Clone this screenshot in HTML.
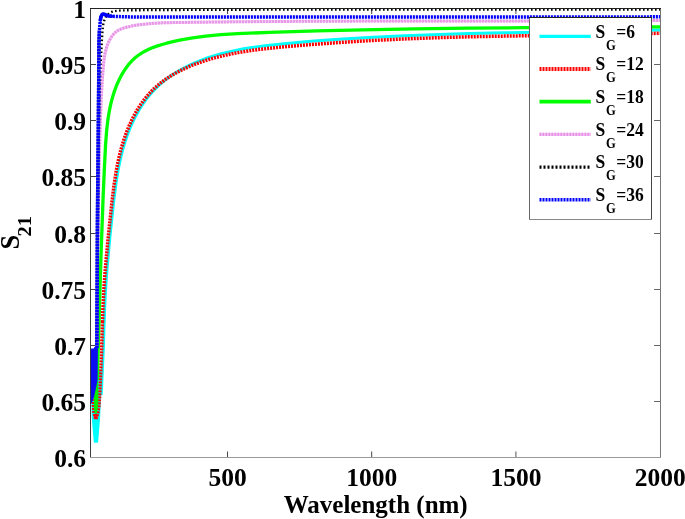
<!DOCTYPE html><html><head><meta charset="utf-8"><style>html,body{margin:0;padding:0;background:#fff;overflow:hidden}svg{display:block;will-change:transform}</style></head><body><svg width="685" height="519" viewBox="0 0 685 519">
<rect width="685" height="519" fill="#fff"/>
<path d="M91,64.5h5M91,120.5h5M91,176.5h5M91,233.5h5M91,289.5h5M91,345.5h5M91,401.5h5" stroke="#444" stroke-width="1" fill="none"/>
<path d="M660,64.5h-6M660,120.5h-6M660,176.5h-6M660,233.5h-6M660,289.5h-6M660,345.5h-6M660,401.5h-6" stroke="#666" stroke-width="1" fill="none"/>
<path d="M227.55,457v-5.5M227.55,9v5M371.7,457v-5.5M371.7,9v5" stroke="#444" stroke-width="1" fill="none"/>
<path d="M515.9,457v-5.5M515.9,9v5" stroke="#555" stroke-width="1" fill="none"/>
<defs><clipPath id="c"><rect x="91" y="8" width="569.5" height="449.5"/></clipPath></defs>
<g clip-path="url(#c)" fill="none" stroke-linejoin="round">
<polygon points="91.2,370.0 103.0,370.0 101.9,385.0 101.2,395.0 100.7,405.0 100.1,418.0 98.8,434.0 98.2,441.5 97.6,442.7 94.3,442.7 93.7,441.5 93.1,434.0 91.8,418.0 91.4,405.0 91.2,395.0" fill="#00ffff" stroke="none"/>
<path d="M101.20,395.00 L101.90,380.00 L102.80,360.00 L103.50,345.00 L104.10,322.00" stroke="#00ffff" stroke-width="3"/>
<path d="M104.19,322.12 L104.61,309.05 L105.22,296.09 L106.06,282.23 L107.07,268.42 L109.80,237.95 L113.78,200.39 L116.09,182.54 L117.34,174.64 L118.58,167.77 L119.97,160.94 L121.55,154.16 L123.33,147.45 L125.04,141.75 L127.27,135.18 L129.76,128.71 L132.53,122.34 L135.14,117.01 L138.46,110.95 L141.56,105.92 L144.89,101.06 L148.46,96.39 L152.28,91.93 L155.65,88.39 L159.94,84.37 L164.46,80.59 L169.19,77.05 L174.10,73.74 L179.17,70.65 L184.38,67.79 L189.69,65.14 L196.00,62.31 L201.48,60.11 L207.95,57.76 L214.52,55.66 L221.15,53.77 L227.86,52.09 L235.59,50.39 L242.42,49.08 L250.27,47.76 L267.10,45.47 L287.02,43.40 L313.86,41.08 L342.59,39.00 L373.24,37.18 L404.87,35.67 L439.53,34.39 L469.30,33.53 L503.09,32.76 L617.37,30.80 L661.91,29.87" stroke="#00ffff" stroke-width="3"/>
<path d="M93.20,396.00 L93.40,405.00 L94.00,413.00 L95.80,419.30 L97.60,414.00 L99.00,405.00 L99.70,395.00 L100.40,380.00 L101.20,360.00 L101.80,345.00 L102.40,322.00 M102.50,322.14 L102.86,310.05 L103.45,297.07 L104.21,284.19 L105.21,270.39 L107.84,240.93 L111.87,202.44 L114.09,184.58 L116.46,169.77 L117.80,162.91 L119.31,156.11 L121.02,149.36 L122.66,143.62 L124.81,137.01 L126.85,131.40 L129.51,124.96 L132.01,119.55 L134.75,114.26 L137.71,109.13 L140.92,104.17 L144.37,99.40 L148.08,94.86 L151.37,91.26 L154.85,87.84 L159.28,83.99 L163.16,81.00 L168.03,77.65 L173.09,74.55 L178.31,71.68 L183.66,69.04 L190.03,66.21 L195.56,64.00 L202.08,61.65 L208.68,59.53 L215.34,57.63 L222.06,55.93 L229.80,54.20 L236.62,52.86 L244.47,51.52 L252.36,50.34 L261.27,49.18 L280.16,47.19 L308.99,44.71 L339.69,42.46 L371.32,40.54 L402.93,38.99 L435.60,37.75 L462.38,36.97 L491.19,36.32 L609.45,34.38 L661.90,33.19" stroke="#ff0000" stroke-width="3.5" stroke-dasharray="2 1"/>
<polygon points="93.9,385.0 98.0,380.0 98.4,395.0 98.0,407.0 96.8,413.5 94.7,413.5 93.9,408.0" fill="#00f000" stroke="none"/>
<polygon points="93.8,414.5 97.7,414.5 97.5,418.5 95.8,419.6 94.1,418.5" fill="#ee1111" stroke="none"/>
<path d="M97.25,380.25 L100.96,256.92 L103.09,197.73 L104.39,167.95 L105.59,144.65 L106.58,131.35 L107.82,120.36 L108.82,113.84 L109.82,108.45 L111.00,103.11 L112.38,97.83 L113.97,92.62 L115.81,87.48 L117.90,82.42 L119.77,78.44 L121.83,74.57 L124.08,70.82 L126.53,67.23 L129.19,63.84 L132.07,60.67 L135.18,57.75 L137.66,55.75 L141.18,53.33 L144.89,51.18 L148.77,49.27 L152.81,47.58 L156.95,46.07 L161.19,44.72 L166.56,43.22 L173.06,41.62 L179.57,40.21 L192.63,37.89 L205.74,36.13 L221.08,34.68 L237.55,33.63 L269.44,32.37 L316.71,30.95 L362.86,29.86 L414.53,28.93 L467.32,28.21 L524.52,27.64 L587.22,27.22 L661.98,26.91" stroke="#00ff00" stroke-width="3.3"/>
<path d="M97.11,344.96 L97.19,304.30 L97.43,266.12 L97.85,229.20 L98.44,193.55 L99.28,156.68 L100.33,121.14 L101.19,99.56 L102.26,80.45 L103.22,67.64 L104.00,59.97 L105.00,53.68 L106.52,47.59 L107.76,44.07 L108.75,41.79 L110.51,38.47 L111.88,36.36 L113.43,34.36 L115.17,32.55 L117.12,30.99 L118.18,30.33 L121.60,28.72 L126.48,27.18 L132.78,25.82 L139.12,24.80 L146.73,23.89 L154.35,23.28 L163.25,22.85 L173.42,22.59 L237.01,21.75 L309.52,21.24 L379.51,21.05 L561.48,20.94 L614.92,20.74 L661.99,20.41" stroke="#f2c6f2" stroke-width="3"/>
<path d="M97.11,344.96 L97.19,304.30 L97.43,266.12 L97.85,229.20 L98.44,193.55 L99.28,156.68 L100.33,121.14 L101.19,99.56 L102.26,80.45 L103.22,67.64 L104.00,59.97 L105.00,53.68 L106.52,47.59 L107.76,44.07 L108.75,41.79 L110.51,38.47 L111.88,36.36 L113.43,34.36 L115.17,32.55 L117.12,30.99 L118.18,30.33 L121.60,28.72 L126.48,27.18 L132.78,25.82 L139.12,24.80 L146.73,23.89 L154.35,23.28 L163.25,22.85 L173.42,22.59 L237.01,21.75 L309.52,21.24 L379.51,21.05 L561.48,20.94 L614.92,20.74 L661.99,20.41" stroke="#e690e6" stroke-width="3" stroke-dasharray="1.6 1.4"/>
<path d="M97.30,345.01 L98.08,209.00 L98.46,162.84 L99.24,109.17 L100.19,74.26 L100.83,59.35 L101.77,41.90 L102.47,30.59 L103.04,25.59 L103.52,23.14 L104.20,20.73 L105.65,17.32 L106.97,15.33 L107.75,14.45 L109.56,12.99 L111.70,11.95 L114.07,11.26 L116.56,10.82 L120.35,10.46 L126.68,10.30 L166.66,9.98 L273.94,9.61 L662.01,9.43" stroke="#000" stroke-width="2.4" stroke-dasharray="1.6 2.4"/>
<polygon points="91.0,348.6 93.8,348.4 94.4,346.9 97.9,346.8 97.6,380.0 96.0,388.0 94.0,397.0 91.6,403.5 91.0,403.5" fill="#0c0cf0" stroke="none"/>
<path d="M96.85,348.01 L97.43,225.63 L98.70,86.32 L98.95,43.43 L99.44,30.39" stroke="#4a4ad0" stroke-width="3.6"/>
<path d="M100.39,19.89 L100.84,17.29 L101.28,16.05 L101.94,14.92 L102.82,14.15 L103.87,14.05 L107.53,15.60 L108.80,15.93 L111.37,16.27" stroke="#0000f4" stroke-width="3.5" stroke-linecap="round"/>
<path d="M96.85,348.01 L97.43,225.63 L98.70,86.32 L98.95,43.43 L99.44,30.39 L100.39,19.89 L100.84,17.29 L101.28,16.05 L101.94,14.92 L102.82,14.15 L103.87,14.05 L107.53,15.60 L108.80,15.93 L111.37,16.27 L126.95,16.85 L145.16,17.08 L662.00,16.87" stroke="#0000ff" stroke-width="3.5" stroke-dasharray="2.1 0.9"/>
</g>
<path d="M90.5,8V458" stroke="#3c3c3c" stroke-width="1"/>
<path d="M660.5,8V458" stroke="#777" stroke-width="1"/>
<path d="M90,8.5H661" stroke="#222" stroke-width="1"/>
<path d="M90,457.5H661" stroke="#999" stroke-width="1"/>
<text x="86" y="17.70" font-family="Liberation Serif, serif" font-weight="bold" font-size="25.5" text-anchor="end">1</text>
<text x="86" y="73.70" font-family="Liberation Serif, serif" font-weight="bold" font-size="25.5" text-anchor="end">0.95</text>
<text x="86" y="129.70" font-family="Liberation Serif, serif" font-weight="bold" font-size="25.5" text-anchor="end">0.9</text>
<text x="86" y="185.70" font-family="Liberation Serif, serif" font-weight="bold" font-size="25.5" text-anchor="end">0.85</text>
<text x="86" y="242.70" font-family="Liberation Serif, serif" font-weight="bold" font-size="25.5" text-anchor="end">0.8</text>
<text x="86" y="298.70" font-family="Liberation Serif, serif" font-weight="bold" font-size="25.5" text-anchor="end">0.75</text>
<text x="86" y="354.70" font-family="Liberation Serif, serif" font-weight="bold" font-size="25.5" text-anchor="end">0.7</text>
<text x="86" y="410.70" font-family="Liberation Serif, serif" font-weight="bold" font-size="25.5" text-anchor="end">0.65</text>
<text x="86" y="466.70" font-family="Liberation Serif, serif" font-weight="bold" font-size="25.5" text-anchor="end">0.6</text>
<text x="227.55" y="486" font-family="Liberation Serif, serif" font-weight="bold" font-size="25.5" text-anchor="middle">500</text>
<text x="371.70" y="486" font-family="Liberation Serif, serif" font-weight="bold" font-size="25.5" text-anchor="middle">1000</text>
<text x="515.90" y="486" font-family="Liberation Serif, serif" font-weight="bold" font-size="25.5" text-anchor="middle">1500</text>
<text x="660.20" y="486" font-family="Liberation Serif, serif" font-weight="bold" font-size="25.5" text-anchor="middle">2000</text>
<text x="375.7" y="512.6" font-family="Liberation Serif, serif" font-weight="bold" font-size="25" text-anchor="middle">Wavelength (nm)</text>
<g transform="translate(18.9,249.6) rotate(-90)"><text x="0" y="0" font-family="Liberation Serif, serif" font-weight="bold" font-size="26.3">S</text><text transform="translate(13.2,11.8) scale(1.08,1)" font-family="Liberation Serif, serif" font-weight="bold" font-size="19">21</text></g>
<rect x="529.5" y="17.5" width="122" height="202" fill="#fff" stroke="none"/>
<path d="M529.5,17V220" stroke="#666" stroke-width="1"/>
<path d="M651.5,17V220" stroke="#444" stroke-width="1"/>
<path d="M529,17.5H652" stroke="#222" stroke-width="1"/>
<path d="M529,219.5H652" stroke="#888" stroke-width="1"/>
<path d="M539.5,36.30H590.8" stroke="#00ffff" stroke-width="3.2"/>
<text transform="translate(595.5,37.60) scale(1,1.09)" font-family="Liberation Serif, serif" font-weight="bold" font-size="17.5">S</text>
<text transform="translate(605.9,49.50) scale(0.9,1.1)" font-family="Liberation Serif, serif" font-weight="bold" font-size="14">G</text>
<text transform="translate(616.3,37.60) scale(1,1.09)" font-family="Liberation Serif, serif" font-weight="bold" font-size="17.5">=6</text>
<path d="M539.5,69.00H590.8" stroke="#ff0000" stroke-width="3.8" stroke-dasharray="2 1"/>
<text transform="translate(595.5,70.30) scale(1,1.09)" font-family="Liberation Serif, serif" font-weight="bold" font-size="17.5">S</text>
<text transform="translate(605.9,82.20) scale(0.9,1.1)" font-family="Liberation Serif, serif" font-weight="bold" font-size="14">G</text>
<text transform="translate(616.3,70.30) scale(1,1.09)" font-family="Liberation Serif, serif" font-weight="bold" font-size="17.5">=12</text>
<path d="M539.5,101.70H590.8" stroke="#00ff00" stroke-width="3.8"/>
<text transform="translate(595.5,103.00) scale(1,1.09)" font-family="Liberation Serif, serif" font-weight="bold" font-size="17.5">S</text>
<text transform="translate(605.9,114.90) scale(0.9,1.1)" font-family="Liberation Serif, serif" font-weight="bold" font-size="14">G</text>
<text transform="translate(616.3,103.00) scale(1,1.09)" font-family="Liberation Serif, serif" font-weight="bold" font-size="17.5">=18</text>
<path d="M539.5,134.40H590.8" stroke="#f2c6f2" stroke-width="3.2"/>
<path d="M539.5,134.40H590.8" stroke="#e690e6" stroke-width="3.2" stroke-dasharray="1.6 1.4"/>
<text transform="translate(595.5,135.70) scale(1,1.09)" font-family="Liberation Serif, serif" font-weight="bold" font-size="17.5">S</text>
<text transform="translate(605.9,147.60) scale(0.9,1.1)" font-family="Liberation Serif, serif" font-weight="bold" font-size="14">G</text>
<text transform="translate(616.3,135.70) scale(1,1.09)" font-family="Liberation Serif, serif" font-weight="bold" font-size="17.5">=24</text>
<path d="M539.5,167.10H590.8" stroke="#000" stroke-width="3.2" stroke-dasharray="2 2"/>
<text transform="translate(595.5,168.40) scale(1,1.09)" font-family="Liberation Serif, serif" font-weight="bold" font-size="17.5">S</text>
<text transform="translate(605.9,180.30) scale(0.9,1.1)" font-family="Liberation Serif, serif" font-weight="bold" font-size="14">G</text>
<text transform="translate(616.3,168.40) scale(1,1.09)" font-family="Liberation Serif, serif" font-weight="bold" font-size="17.5">=30</text>
<path d="M539.5,199.80H590.8" stroke="#0000ff" stroke-width="3.6" stroke-dasharray="2 1"/>
<text transform="translate(595.5,201.10) scale(1,1.09)" font-family="Liberation Serif, serif" font-weight="bold" font-size="17.5">S</text>
<text transform="translate(605.9,213.00) scale(0.9,1.1)" font-family="Liberation Serif, serif" font-weight="bold" font-size="14">G</text>
<text transform="translate(616.3,201.10) scale(1,1.09)" font-family="Liberation Serif, serif" font-weight="bold" font-size="17.5">=36</text>
</svg></body></html>
